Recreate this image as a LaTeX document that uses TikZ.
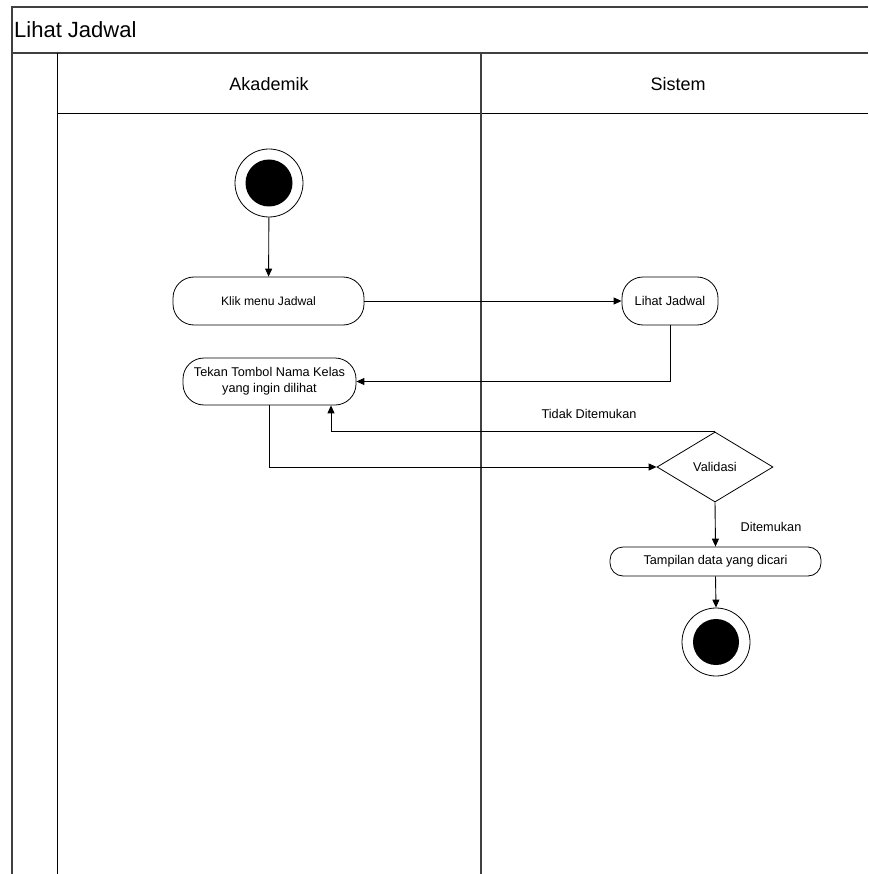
\documentclass[tikz,border=0pt]{standalone}
\usepackage{fontspec}
\setmainfont{Liberation Sans}
\usetikzlibrary{arrows.meta,shapes.geometric,calc}
\begin{document}
\begin{tikzpicture}[x=1pt,y=-1pt,
  frameline/.style={draw=black!75,line width=1.4pt},
  laneline/.style={draw=black,line width=1pt},
  act/.style={draw,line width=0.8pt,rounded corners=21pt,inner sep=0pt,align=center,font=\fontsize{12.7}{16}\selectfont},
  actsmall/.style={draw,line width=0.8pt,rounded corners=13pt,inner sep=0pt,align=center,font=\fontsize{12.7}{16}\selectfont},
  decis/.style={draw,diamond,line width=0.8pt,inner sep=0pt,font=\fontsize{12.7}{16}\selectfont},
  outerc/.style={draw,circle,line width=0.8pt,minimum size=68pt,inner sep=0pt},
  innerc/.style={fill=black,circle,minimum size=47pt,inner sep=0pt},
  flow/.style={draw,line width=0.9pt,-{Triangle[length=8pt,width=7pt]}},
  lbl/.style={font=\fontsize{12.7}{16}\selectfont,inner sep=0pt}
]
\useasboundingbox (0,0) rectangle (868,874);
% frame
\draw[frameline] (868,7) -- (12,7) -- (12,874);
\draw[frameline] (12,53) -- (868,53);
\draw[laneline] (57,53) -- (57,874);
\draw[laneline] (57,114) -- (868,114);
\draw[frameline] (481,53) -- (481,874);
\node[anchor=west,inner sep=0pt,font=\fontsize{22}{25}\selectfont] (title) at (14,30) {Lihat Jadwal};
\node[lbl,font=\fontsize{18}{21}\selectfont] (lane1) at (269,84) {Akademik};
\node[lbl,font=\fontsize{18}{21}\selectfont] (lane2) at (678,84) {Sistem};
% nodes
\node[outerc] (start) at (269,183) {};
\node[innerc] (startin) at (269,183) {};
\node[act,minimum width=191pt,minimum height=48pt,font=\fontsize{12.2}{15}\selectfont] (klik) at (268.5,301) {Klik menu Jadwal};
\node[act,minimum width=96pt,minimum height=48pt] (lihat) at (670,301) {Lihat Jadwal};
\node[act,minimum width=173pt,minimum height=47pt] (tekan) at (269.5,381.5) {Tekan Tombol Nama Kelas\\yang ingin dilihat};
\node[decis,minimum width=116pt,minimum height=70pt] (valid) at (715,467) {Validasi};
\node[actsmall,minimum width=211pt,minimum height=29pt] (tampil) at (715.5,561.5) {Tampilan data yang dicari};
\node[outerc] (end) at (716,642) {};
\node[innerc,minimum size=46pt] (endin) at (716,642) {};
% connectors
\draw[flow] (start) -- (klik);
\draw[flow] (klik) -- (lihat);
\draw[flow] (lihat.south) |- (tekan.east);
\draw[flow] (valid.north) -| ([xshift=61.5pt]tekan.south);
\draw[flow] (tekan.south) |- (valid.west);
\draw[flow] (valid.south) -- (tampil.north);
\draw[flow] (tampil.south) -- (end.north);
\node[lbl] (ltidak) at (589,414) {Tidak Ditemukan};
\node[lbl] (lditemu) at (771,527) {Ditemukan};
\end{tikzpicture}
\end{document}
